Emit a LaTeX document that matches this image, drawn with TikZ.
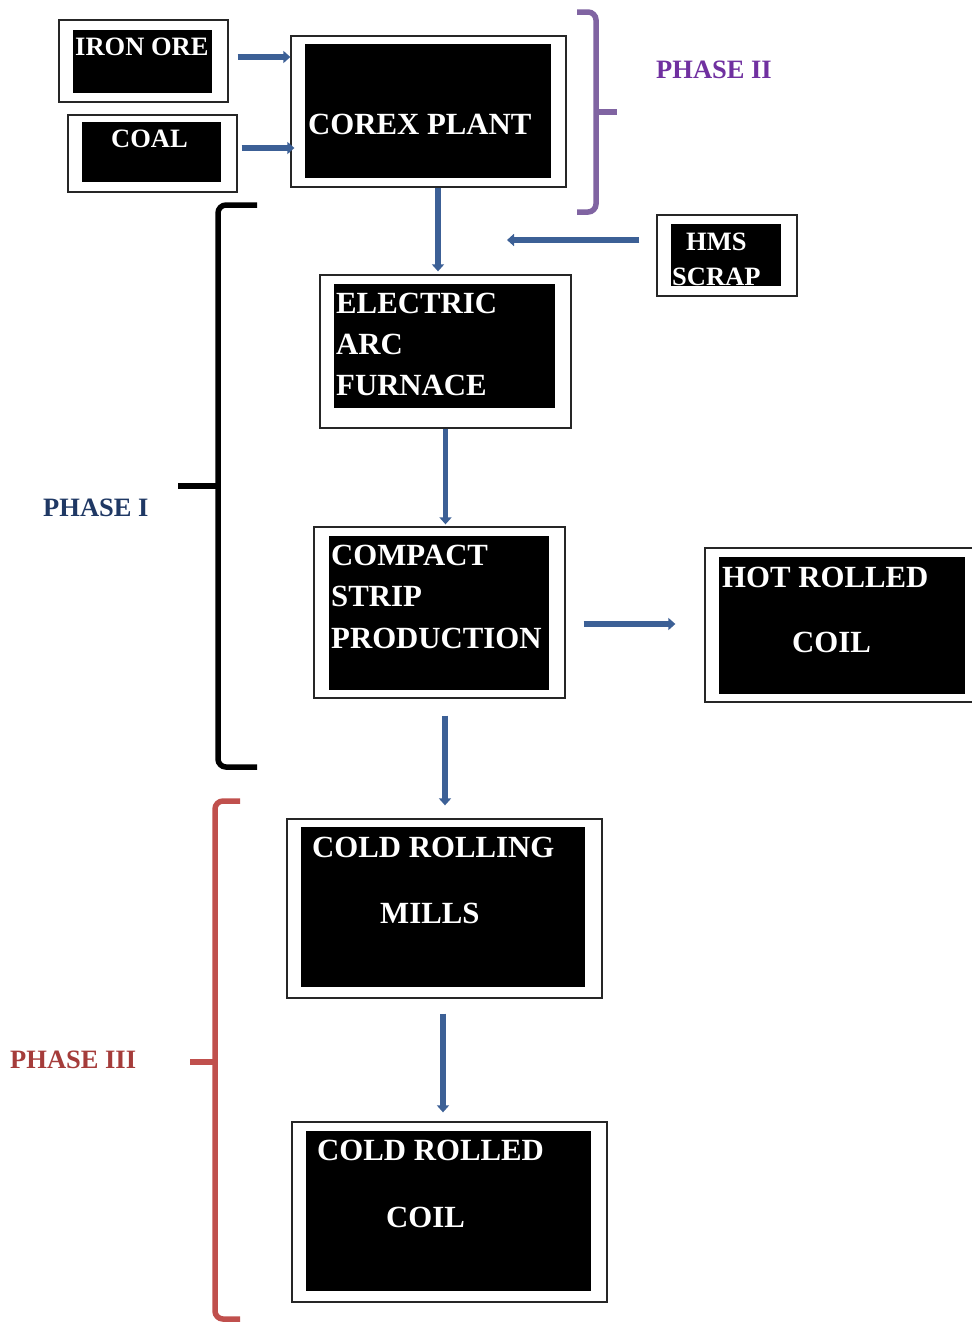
\documentclass[tikz,border=0pt]{standalone}
\usepackage{fontspec}
\setmainfont{Liberation Serif}
\usetikzlibrary{arrows.meta,calc}
\definecolor{arrblue}{RGB}{60,96,150}
\definecolor{phtwo}{RGB}{112,48,160}
\definecolor{bracetwo}{RGB}{128,100,162}
\definecolor{phone}{RGB}{31,56,100}
\definecolor{bracethree}{RGB}{192,80,77}
\definecolor{phthree}{RGB}{165,60,58}
\begin{document}
\begin{tikzpicture}[x=1pt,y=-1pt,
  outerbox/.style={draw=black!85, line width=1.3pt, fill=white, inner sep=0pt},
  big/.style={text=white, font=\bfseries\fontsize{30.8}{31}\selectfont, anchor=base west, inner sep=0pt},
  small/.style={text=white, font=\bfseries\fontsize{26.5}{27}\selectfont, anchor=base west, inner sep=0pt},
  phaselbl/.style={font=\bfseries\fontsize{26.5}{27}\selectfont, anchor=base west, inner sep=0pt},
  arr/.style={draw=arrblue, line width=5.5pt, -{Triangle[width=12pt,length=7pt]}},
  bracepath/.style={line width=5.5pt, rounded corners=8pt},
  bracetick/.style={line width=5.5pt}
]
\useasboundingbox (0,0) rectangle (972,1323);
\clip (0,0) rectangle (972,1323);

% Boxes
\node[outerbox, minimum width=169pt, minimum height=82pt] (iron) at (143.5,61) {};
\fill (73,30) rectangle (212,93);
\node[small] (tiron) at (75,55) {IRON ORE};

\node[outerbox, minimum width=169pt, minimum height=77pt] (coal) at (152.5,153.5) {};
\fill (82,122) rectangle (221,182);
\node[small] (tcoal) at (111,147) {COAL};

\node[outerbox, minimum width=275pt, minimum height=151pt] (corex) at (428.5,111.5) {};
\fill (305,44) rectangle (551,178);
\node[big] (tcorex) at (308,134) {COREX PLANT};

\node[outerbox, minimum width=140pt, minimum height=81pt] (hms) at (727,255.5) {};
\fill (671,224) rectangle (781,286);
\node[small] (thms1) at (686,250) {HMS};
\node[small] (thms2) at (672,285) {SCRAP};

\node[outerbox, minimum width=251pt, minimum height=153pt] (eaf) at (445.5,351.5) {};
\fill (334,284) rectangle (555,408);
\node[big] (teaf1) at (336,313) {ELECTRIC};
\node[big] (teaf2) at (336,354) {ARC};
\node[big] (teaf3) at (336,395) {FURNACE};

\node[outerbox, minimum width=251pt, minimum height=171pt] (csp) at (439.5,612.5) {};
\fill (329,536) rectangle (549,690);
\node[big] (tcsp1) at (331,565) {COMPACT};
\node[big] (tcsp2) at (331,606) {STRIP};
\node[big] (tcsp3) at (331,648) {PRODUCTION};

\node[outerbox, minimum width=270pt, minimum height=154pt] (hrc) at (840,625) {};
\fill (719,557) rectangle (965,694);
\node[big] (thrc1) at (722,587) {HOT ROLLED};
\node[big] (thrc2) at (792,652) {COIL};

\node[outerbox, minimum width=315pt, minimum height=179pt] (crm) at (444.5,908.5) {};
\fill (301,827) rectangle (585,987);
\node[big] (tcrm1) at (312,857) {COLD ROLLING};
\node[big] (tcrm2) at (380,923) {MILLS};

\node[outerbox, minimum width=315pt, minimum height=180pt] (crc) at (449.5,1212) {};
\fill (306,1131) rectangle (591,1291);
\node[big] (tcrc1) at (317,1160) {COLD ROLLED};
\node[big] (tcrc2) at (386,1227) {COIL};

% Connectors
\draw[arr] ($(iron.east)+(9,-4)$) -- ($(iron.east -| corex.west)+(0,-4)$);
\draw[arr] ($(coal.east)+(4,-5.5)$) -- ($(coal.east -| corex.west)+(4,-5.5)$);
\draw[arr] ($(corex.south)+(9.5,0)$) -- ($(corex.south |- eaf.north)+(9.5,-3)$);
\coordinate (hmsend) at (507,240);
\draw[arr] ($(hms.west)+(-17,-15.5)$) -- (hmsend);
\draw[arr] (eaf.south) -- ($(eaf.south |- csp.north)+(0,-2)$);
\draw[arr] ($(csp.east)+(18,11.5)$) -- ($(csp.east -| hrc.west)+(-29,11.5)$);
\draw[arr] ($(csp.south)+(5.5,17)$) -- ($(csp.south |- crm.north)+(5.5,-13)$);
\draw[arr] ($(crm.south)+(-1.5,15)$) -- ($(crm.south |- crc.north)+(-1.5,-9)$);

% Braces
\draw[bracepath, bracetwo] (577,12) -- (596,12) -- (596,212) -- (577,212);
\draw[bracetick, bracetwo] (596,112) -- (617,112);
\node[phaselbl, text=phtwo] (ph2) at (656,78) {PHASE II};

\draw[bracepath, black] (257,205) -- (218,205) -- (218,767) -- (257,767);
\draw[bracetick, black] (218,486) -- (178,486);
\node[phaselbl, text=phone] (ph1) at (43,516) {PHASE I};

\draw[bracepath, bracethree] (240,801) -- (215,801) -- (215,1319) -- (240,1319);
\draw[bracetick, bracethree] (215,1062) -- (190,1062);
\node[phaselbl, text=phthree] (ph3) at (10,1068) {PHASE III};
\end{tikzpicture}
\end{document}
